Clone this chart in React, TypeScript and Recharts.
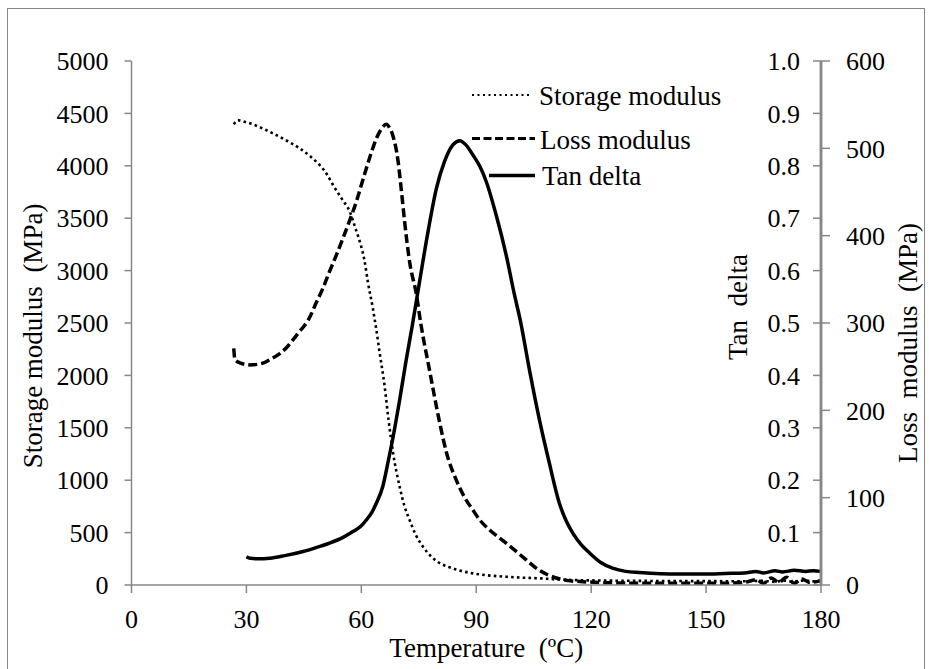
import React from 'react';
import { LineChart, Line, XAxis, YAxis, Legend } from 'recharts';

const FONT = '"Liberation Serif", "Times New Roman", serif';
const GRAY = '#878787';

// Temperature (°C) / Storage modulus (MPa)
const storageT = [26.7, 27.8, 29.5, 31.7, 34, 36.9, 40, 43.9, 47, 49.1, 51, 52.6, 55, 57, 58.5, 59.6, 60.8, 61.7, 63, 63.9, 64.8, 66.1, 67.1, 68.3, 70, 71.2, 72.6, 74.2, 76.1, 78, 80.4, 83, 85.2, 89.1, 93, 97.8, 102, 106.4, 110, 115, 120, 130, 140, 150, 160, 165, 168, 170, 173, 176, 178, 180];
const storageV = [4396, 4434, 4420, 4396, 4360, 4310, 4250, 4167, 4080, 4008, 3920, 3817, 3680, 3562, 3400, 3276, 3100, 2894, 2640, 2440, 2211, 1892, 1574, 1257, 938, 760, 620, 480, 365, 280, 210, 170, 143, 111, 92, 79, 70, 64, 56, 48, 44, 40, 38, 37, 36, 40, 30, 42, 33, 44, 35, 40];

// Temperature (°C) / Loss modulus (MPa)
const lossT = [26.7, 27.0, 28.5, 30.9, 34.3, 36.5, 38.7, 40.5, 42.2, 44, 46.1, 48.3, 50, 51.7, 53.5, 55.2, 57, 58.7, 60, 61.3, 62.6, 63.9, 65.2, 66.5, 67.3, 68.2, 69.6, 70.4, 71.3, 72.6, 74.4, 75.5, 77.8, 80.4, 82.2, 84.8, 87, 89.1, 91, 93.5, 97.8, 102.2, 106.4, 108.5, 110.9, 114, 117, 125, 135, 145, 155, 160, 163, 165, 167, 169, 171, 173, 175, 177, 180];
const lossV = [271, 258, 254, 252, 254, 259, 265, 272, 281, 291, 303, 324, 340, 359, 378, 397, 418, 439, 458, 477, 495, 511, 522, 527.5, 524, 515, 485, 454, 416, 370, 332, 300, 246, 187, 152, 120, 100, 86, 74, 63, 48, 32, 17, 12, 8, 5, 4, 2.5, 2, 2, 2, 3, 6, 2, 8, 3, 9, 2, 7, 3, 5];

// Temperature (°C) / Tan delta
const tanT = [30, 31, 33, 36.1, 40, 44.8, 48, 51.7, 55, 57.8, 60, 61.3, 62.7, 63.9, 65.6, 66.9, 68.3, 70, 71.7, 73.3, 75.2, 77.4, 79.6, 81.7, 83.9, 85.7, 87.3, 89.1, 91, 92.6, 95.2, 97.8, 100, 101.5, 103.9, 106.5, 109.1, 111.7, 113.5, 115.2, 117.5, 119.6, 122.5, 125.6, 129, 132.6, 142.6, 150, 155, 160, 163, 165, 168, 170, 173, 176, 178, 180];
const tanV = [0.054, 0.051, 0.05, 0.051, 0.056, 0.064, 0.071, 0.08, 0.09, 0.102, 0.113, 0.124, 0.138, 0.156, 0.188, 0.232, 0.283, 0.353, 0.429, 0.495, 0.579, 0.674, 0.757, 0.808, 0.84, 0.848, 0.84, 0.821, 0.798, 0.77, 0.706, 0.63, 0.553, 0.505, 0.41, 0.315, 0.232, 0.156, 0.122, 0.099, 0.076, 0.061, 0.043, 0.032, 0.026, 0.024, 0.021, 0.021, 0.022, 0.023, 0.026, 0.023, 0.027, 0.025, 0.028, 0.026, 0.027, 0.026];

const xTicks = [0, 30, 60, 90, 120, 150, 180];
const storageTicks = [0, 500, 1000, 1500, 2000, 2500, 3000, 3500, 4000, 4500, 5000];
const tanTicks = [0, 0.1, 0.2, 0.3, 0.4, 0.5, 0.6, 0.7, 0.8, 0.9, 1.0];
const lossTicks = [0, 100, 200, 300, 400, 500, 600];

const seriesNames = ['Storage modulus', 'Loss modulus', 'Tan delta'];

const storageData = storageT.map((t, i) => ({ t, v: storageV[i] }));
const lossData = lossT.map((t, i) => ({ t, v: lossV[i] }));
const tanData = tanT.map((t, i) => ({ t, v: tanV[i] }));

const tickStyle = { fill: '#000', fontSize: 26, fontFamily: FONT };

function vTitle(text: string, dxFromX: number, dy: number) {
  return (props: any) => {
    const vb = props.viewBox || { x: 0, y: 0, width: 0, height: 0 };
    const cx = vb.x + dxFromX;
    const cy = vb.y + vb.height / 2 + dy;
    return (
      <text
        x={cx}
        y={cy}
        transform={`rotate(-90 ${cx} ${cy})`}
        textAnchor="middle"
        dominantBaseline="central"
        fontSize={27}
        fontFamily={FONT}
        fill="#000"
        style={{ whiteSpace: 'pre' }}
      >
        {text}
      </text>
    );
  };
}

function xTitle(text: string) {
  return (props: any) => {
    const vb = props.viewBox || { x: 0, y: 0, width: 0, height: 0 };
    const cx = vb.x + vb.width / 2 + 10;
    const cy = vb.y + 63;
    return (
      <text x={cx} y={cy} textAnchor="middle" dominantBaseline="central" fontSize={27} fontFamily={FONT} fill="#000" style={{ whiteSpace: 'pre' }}>
        {text}
      </text>
    );
  };
}

const legendRows = [
  { name: seriesNames[0], x1: 472, x2: 529, y: 95, tx: 539, ty: 105, dash: '2 3.5', w: 2.2 },
  { name: seriesNames[1], x1: 472, x2: 535, y: 138.5, tx: 540, ty: 148.5, dash: '8 3.5', w: 3 },
  { name: seriesNames[2], x1: 489, x2: 535, y: 175.5, tx: 542, ty: 185, dash: undefined, w: 3.5 },
];

function renderLegend() {
  return (
    <svg width={929} height={669} style={{ position: 'absolute', left: 0, top: 0, pointerEvents: 'none' }}>
      {legendRows.map((r) => (
        <g key={r.name}>
          <line x1={r.x1} x2={r.x2} y1={r.y} y2={r.y} stroke="#000" strokeWidth={r.w} strokeDasharray={r.dash} />
          <text x={r.tx} y={r.ty} fontSize={27} fontFamily={FONT} fill="#000">
            {r.name}
          </text>
        </g>
      ))}
    </svg>
  );
}

export default function App() {
  return (
    <div style={{ position: 'absolute', left: 0, top: 0, width: 929, height: 669, overflow: 'hidden', background: '#fff' }}>
      <div
        style={{
          position: 'absolute',
          left: 7,
          top: 8,
          width: 918,
          height: 700,
          border: `1.5px solid ${GRAY}`,
          boxSizing: 'border-box',
        }}
      />
      <div style={{ position: 'absolute', left: 0, top: 0 }}>
        <LineChart width={929} height={669} margin={{ top: 61, right: 0, bottom: 0, left: 0 }}>
          <XAxis
            dataKey="t"
            type="number"
            domain={[0, 180]}
            ticks={xTicks}
            interval={0}
            height={84}
            tickSize={8}
            tickMargin={17}
            tick={tickStyle}
            axisLine={{ stroke: GRAY, strokeWidth: 1.5 }}
            tickLine={{ stroke: GRAY, strokeWidth: 1.5 }}
            allowDuplicatedCategory={false}
            label={{ content: xTitle('Temperature\u00A0\u00A0(ºC)') }}
          />
          <YAxis
            yAxisId="storage"
            orientation="left"
            type="number"
            domain={[0, 5000]}
            ticks={storageTicks}
            interval={0}
            width={131.5}
            tickSize={7}
            tickMargin={16}
            tick={tickStyle}
            axisLine={{ stroke: GRAY, strokeWidth: 1.5 }}
            tickLine={{ stroke: GRAY, strokeWidth: 1.5 }}
            label={{ content: vTitle('Storage modulus\u00A0\u00A0(MPa)', 33, 13) }}
          />
          <YAxis
            yAxisId="tan"
            orientation="right"
            mirror
            type="number"
            domain={[0, 1]}
            ticks={tanTicks}
            interval={0}
            width={60}
            tickSize={8}
            tickMargin={13}
            tick={tickStyle}
            tickFormatter={(v: number) => (v === 0 ? '' : v.toFixed(1))}
            axisLine={{ stroke: GRAY, strokeWidth: 2.5 }}
            tickLine={{ stroke: GRAY, strokeWidth: 1.5 }}
            label={{ content: vTitle('Tan\u00A0\u00A0delta', -23, -16) }}
          />
          <YAxis
            yAxisId="loss"
            orientation="right"
            type="number"
            domain={[0, 600]}
            ticks={lossTicks}
            interval={0}
            width={108}
            tickSize={9}
            tickMargin={16}
            tick={tickStyle}
            axisLine={{ stroke: GRAY, strokeWidth: 2.5 }}
            tickLine={{ stroke: GRAY, strokeWidth: 1.5 }}
            label={{ content: vTitle('Loss\u00A0\u00A0modulus\u00A0\u00A0(MPa)', 87, 20) }}
          />
          <Line
            yAxisId="storage"
            data={storageData}
            dataKey="v"
            name={seriesNames[0]}
            type="monotone"
            stroke="#000"
            strokeWidth={2.6}
            strokeDasharray="2.6 3.2"
            dot={false}
            isAnimationActive={false}
          />
          <Line
            yAxisId="loss"
            data={lossData}
            dataKey="v"
            name={seriesNames[1]}
            type="monotone"
            stroke="#000"
            strokeWidth={3.5}
            strokeDasharray="9 4"
            dot={false}
            isAnimationActive={false}
          />
          <Line
            yAxisId="tan"
            data={tanData}
            dataKey="v"
            name={seriesNames[2]}
            type="monotone"
            stroke="#000"
            strokeWidth={3.5}
            dot={false}
            isAnimationActive={false}
          />
          <Legend
            layout="vertical"
            align="center"
            verticalAlign="middle"
            content={renderLegend}
            wrapperStyle={{ position: 'absolute', left: 0, top: 0, width: 929, height: 669, pointerEvents: 'none' }}
          />
        </LineChart>
      </div>
    </div>
  );
}
